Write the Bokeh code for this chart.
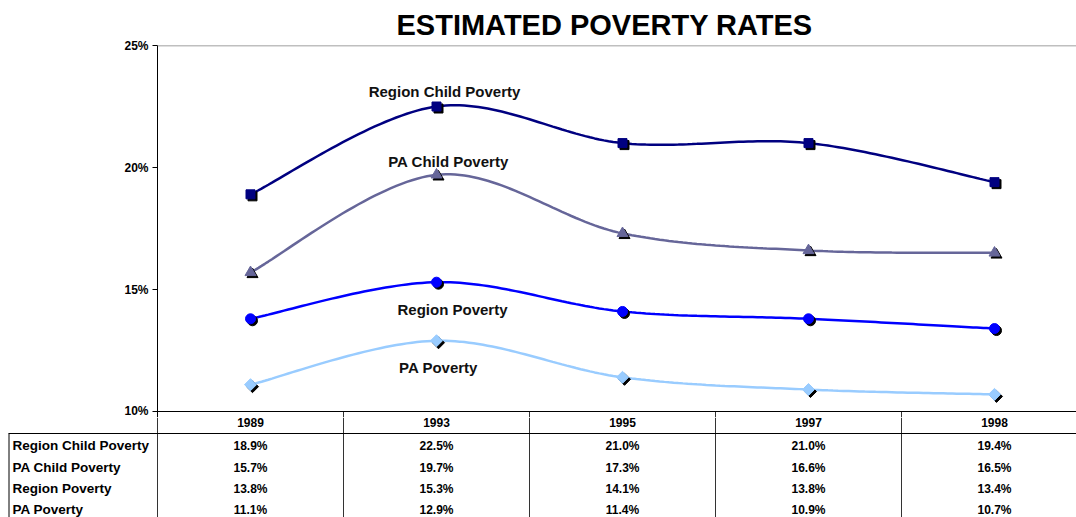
import math
from bokeh.plotting import figure
from bokeh.layouts import column
from bokeh.models import (Range1d, ColumnDataSource, Span, Label, FixedTicker,
                          PrintfTickFormatter)
from bokeh.transform import dodge
from bokeh.core.properties import value
from bokeh.embed import file_html
from bokeh.resources import INLINE

# ---------------- data ----------------
years = ["1989", "1993", "1995", "1997", "1998"]
series_names = ["Region Child Poverty", "PA Child Poverty", "Region Poverty", "PA Poverty"]
region_child = [18.9, 22.5, 21.0, 21.0, 19.4]
pa_child = [15.7, 19.7, 17.3, 16.6, 16.5]
region_pov = [13.8, 15.3, 14.1, 13.8, 13.4]
pa_pov = [11.1, 12.9, 11.4, 10.9, 10.7]
y_ticks = [10, 15, 20, 25]

series_values = [region_child, pa_child, region_pov, pa_pov]
colors = ["#000080", "#666699", "#0000FF", "#99CCFF"]
markers = ["square", "triangle", "circle", "square"]
angles = [0, 0, 0, math.pi / 4]
msizes = [9, 11, 10, 8.5]
# label offsets (px) relative to the 1993 point
lab_off = [(8, 15), (12, 13), (16, -27), (2, -27)]

FONT = "Liberation Sans"
COLW = 186.0          # px per category
LEFT = 157            # px left border of chart
W = 1076
PX_PER_PCT = 366.0 / 15.0
EXTRA = 6             # px of frame below 10%
ylo = 10 - EXTRA / PX_PER_PCT

xs_idx = list(range(len(years)))


def smooth(xv, yv, n=40):
    """Cubic Bezier (Catmull-Rom style) smoothing like spreadsheet smoothed lines."""
    ox, oy = [], []
    m = len(xv)
    for i in range(m - 1):
        p0 = (xv[i - 1], yv[i - 1]) if i > 0 else (xv[i], yv[i])
        p1 = (xv[i], yv[i])
        p2 = (xv[i + 1], yv[i + 1])
        p3 = (xv[i + 2], yv[i + 2]) if i + 2 < m else (xv[i + 1], yv[i + 1])
        c1 = (p1[0] + (p2[0] - p0[0]) / 6, p1[1] + (p2[1] - p0[1]) / 6)
        c2 = (p2[0] - (p3[0] - p1[0]) / 6, p2[1] - (p3[1] - p1[1]) / 6)
        for k in range(n + (1 if i == m - 2 else 0)):
            t = k / n
            a = (1 - t) ** 3
            b = 3 * (1 - t) ** 2 * t
            c = 3 * (1 - t) * t ** 2
            d = t ** 3
            ox.append(a * p1[0] + b * c1[0] + c * c2[0] + d * p2[0])
            oy.append(a * p1[1] + b * c1[1] + c * c2[1] + d * p2[1])
    return ox, oy


# ---------------- chart ----------------
H1 = 417
p1 = figure(width=W, height=H1, output_backend="svg", toolbar_location=None,
            x_range=Range1d(-0.5, -0.5 + (W - LEFT) / COLW),
            y_range=Range1d(ylo, 25.0001),
            x_axis_location=None, min_border_left=LEFT, min_border_right=0,
            min_border_top=45, min_border_bottom=0,
            title="ESTIMATED POVERTY RATES")
p1.frame_align = False
p1.title.text_font = FONT
p1.title.text_font_size = "29px"
p1.title.text_font_style = "bold"
p1.title.text_color = "black"
p1.title.align = "left"
p1.title.standoff = 9
p1.title.offset = 239
p1.outline_line_color = None
p1.grid.visible = False
p1.background_fill_color = "white"
p1.border_fill_color = "white"

yax = p1.yaxis[0]
yax.ticker = FixedTicker(ticks=y_ticks)
yax.formatter = PrintfTickFormatter(format="%d%%")
yax.major_label_text_font = FONT
yax.major_label_text_font_size = "12px"
yax.major_label_text_font_style = "bold"
yax.major_label_text_color = "black"
yax.major_tick_out = 5
yax.major_tick_in = 0
yax.minor_tick_out = 0
yax.minor_tick_in = 0
yax.major_label_standoff = 4
yax.axis_line_color = "black"
yax.major_tick_line_color = "black"

p1.add_layout(Span(location=25, dimension="width", line_color="#808080", line_width=1.5))
p1.add_layout(Span(location=10, dimension="width", line_color="black", line_width=1))
bounds = [i + 0.5 for i in xs_idx[:-1]]
p1.segment(x0=bounds, y0=[10] * len(bounds), x1=bounds, y1=[ylo] * len(bounds),
           line_color="#333333", line_width=1)

dx = 2 / COLW
dy = -2 / PX_PER_PCT
for name, vals, col, mk, ang, ms, off in zip(series_names, series_values, colors, markers,
                                             angles, msizes, lab_off):
    sx, sy = smooth(xs_idx, vals)
    p1.line(sx, sy, line_color=col, line_width=2.5)
    src = ColumnDataSource(dict(x=xs_idx, y=vals))
    p1.scatter(x=dodge("x", dx, range=p1.x_range), y=dodge("y", dy, range=p1.y_range),
               source=src, marker=mk, angle=ang, size=ms, fill_color="black", line_color="black")
    p1.scatter(x="x", y="y", source=src, marker=mk, angle=ang, size=ms,
               fill_color=col, line_color=col)
    p1.add_layout(Label(x=1, y=vals[1], x_offset=off[0], y_offset=off[1], text=name,
                        text_align="center", text_baseline="middle",
                        text_font=FONT, text_font_size="15px", text_font_style="bold",
                        text_color="#111111"))

# ---------------- data table ----------------
H2 = 517 - H1
x0 = -0.5 - LEFT / COLW
p2 = figure(width=W, height=H2, output_backend="svg", toolbar_location=None,
            x_range=Range1d(x0, -0.5 + (W - LEFT) / COLW),
            y_range=Range1d(H2, 0),
            x_axis_location=None, y_axis_location=None,
            min_border=0)
p2.frame_align = False
p2.outline_line_color = None
p2.grid.visible = False

header_y = 5
line_y = 16
row_ys = [28, 50, 71, 92]

# grid lines of the table
vx = [-0.5] + bounds
p2.segment(x0=vx, y0=[0] * len(vx), x1=vx, y1=[H2] * len(vx), line_color="#333333", line_width=1)
p2.segment(x0=[x0 + 8.5 / COLW], y0=[line_y], x1=[x0 + 8.5 / COLW], y1=[H2], line_color="black", line_width=1)
p2.segment(x0=[x0 + 8 / COLW], y0=[line_y], x1=[p2.x_range.end], y1=[line_y], line_color="black", line_width=1)

p2.text(x=xs_idx, y=[header_y] * len(years), text=years, text_align="center",
        text_baseline="middle", text_font=value(FONT), text_font_size="12px",
        text_font_style="bold", text_color="black")
p2.text(x=[x0 + 12 / COLW] * len(series_names), y=row_ys, text=series_names, text_align="left",
        text_baseline="middle", text_font=value(FONT), text_font_size="13.5px",
        text_font_style="bold", text_color="black")
cx, cy, ct = [], [], []
for ry, vals in zip(row_ys, series_values):
    for j, v in enumerate(vals):
        cx.append(xs_idx[j])
        cy.append(ry)
        ct.append(f"{v:.1f}%")
p2.text(x=cx, y=cy, text=ct, text_align="center", text_baseline="middle",
        text_font=value(FONT), text_font_size="12px", text_font_style="bold", text_color="black")

layout = column(p1, p2, spacing=0)
open("out.html", "w").write(file_html(layout, INLINE))
